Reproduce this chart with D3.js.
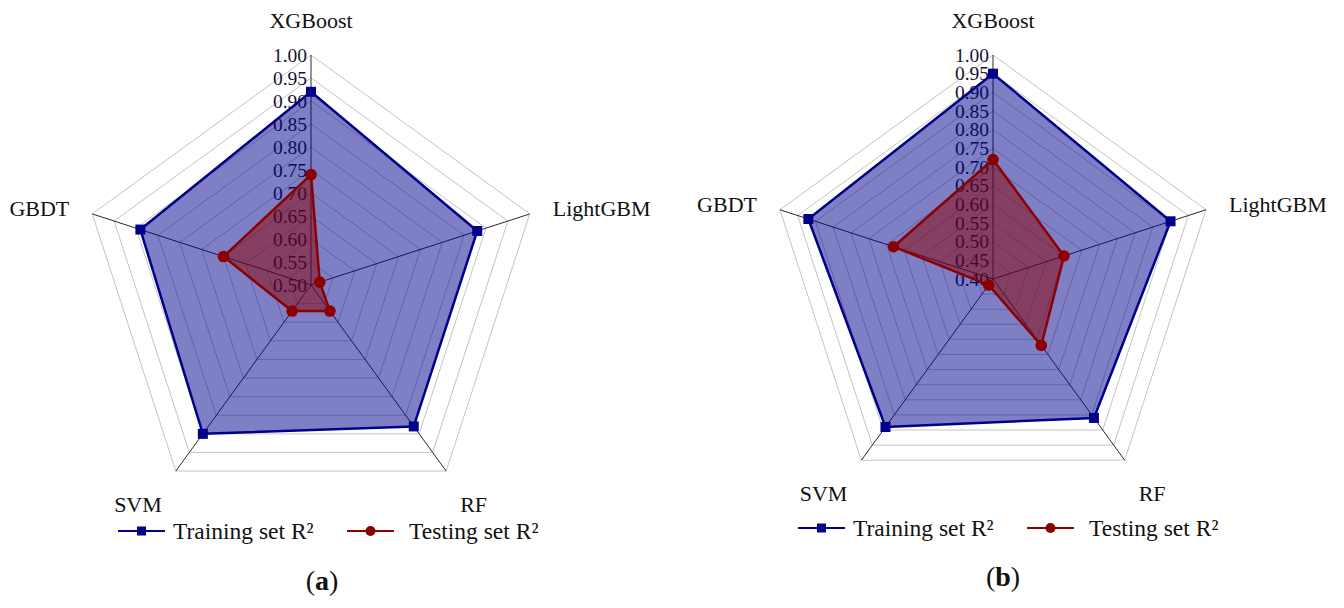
<!DOCTYPE html>
<html>
<head>
<meta charset="utf-8">
<script src="https://cdn.jsdelivr.net/npm/d3@7"></script>
<style>
  html, body { margin: 0; padding: 0; background: #fff; }
  svg { display: block; font-family: "Liberation Serif", "Times New Roman", serif; }
</style>
</head>
<body>
<svg id="chart" width="1344" height="608"></svg>
<script>
// Models compared on each radar
const models = ["XGBoost", "LightGBM", "RF", "SVM", "GBDT"];

// Panel (a)
const trainA = [0.92, 0.88, 0.88, 0.90, 0.89];
const testA  = [0.74, 0.52, 0.57, 0.57, 0.70];
const ticksA = [0.50, 0.55, 0.60, 0.65, 0.70, 0.75, 0.80, 0.85, 0.90, 0.95, 1.00];

// Panel (b)
const trainB = [0.95, 0.90, 0.86, 0.89, 0.92];
const testB  = [0.72, 0.60, 0.62, 0.42, 0.68];
const ticksB = [0.40, 0.45, 0.50, 0.55, 0.60, 0.65, 0.70, 0.75, 0.80, 0.85, 0.90, 0.95, 1.00];

const seriesNames = ["Training set R\u00B2", "Testing set R\u00B2"];

const BLUE = "#00008b";
const RED = "#8b0000";

const svg = d3.select("#chart");

// Label placement relative to each outer vertex
const labelPlace = [
  { anchor: "middle", dx: 0,   dy: -35 },
  { anchor: "start",  dx: 23,  dy: -5 },
  { anchor: "start",  dx: 14,  dy: 33 },
  { anchor: "end",    dx: -14, dy: 33 },
  { anchor: "end",    dx: -23, dy: -5 }
];

function drawRadar(cfg) {
  const g = svg.append("g").attr("transform", `translate(${cfg.cx},${cfg.cy})`);
  const ticks = cfg.ticks;
  const r = d3.scaleLinear().domain([ticks[0], ticks[ticks.length - 1]]).range([0, cfg.R]);
  const angle = d3.scaleLinear().domain([0, models.length]).range([0, 2 * Math.PI]);
  const pt = (i, v) => {
    const a = angle(i);
    return [r(v) * Math.sin(a), -r(v) * Math.cos(a)];
  };
  const ring = v => models.map((m, i) => pt(i, v));

  // grid rings
  g.append("g").selectAll("polygon").data(ticks.slice(1)).join("polygon")
    .attr("points", v => ring(v).map(p => p.join(",")).join(" "))
    .attr("fill", "none")
    .attr("stroke", "#c4c4c4")
    .attr("stroke-width", 1);

  // spokes
  g.append("g").selectAll("line").data(models).join("line")
    .attr("x1", 0).attr("y1", 0)
    .attr("x2", (m, i) => pt(i, ticks[ticks.length - 1])[0])
    .attr("y2", (m, i) => pt(i, ticks[ticks.length - 1])[1])
    .attr("stroke", "#2a2a2a")
    .attr("stroke-width", 1);

  // tick labels along the first axis
  g.append("g").selectAll("text").data(ticks).join("text")
    .attr("x", -4)
    .attr("y", v => -r(v))
    .attr("text-anchor", "end")
    .attr("dominant-baseline", "central")
    .attr("font-size", 19.5)
    .attr("fill", "#141432")
    .text(v => d3.format(".2f")(v));

  // axis (model) labels
  g.append("g").selectAll("text").data(models).join("text")
    .attr("x", (m, i) => pt(i, ticks[ticks.length - 1])[0] + labelPlace[i].dx)
    .attr("y", (m, i) => pt(i, ticks[ticks.length - 1])[1] + labelPlace[i].dy)
    .attr("text-anchor", (m, i) => labelPlace[i].anchor)
    .attr("dominant-baseline", "central")
    .attr("font-size", 22)
    .attr("fill", "#111")
    .text(m => m);

  const radial = d3.lineRadial()
    .angle((d, i) => angle(i))
    .radius(d => r(d))
    .curve(d3.curveLinearClosed);

  // filled areas
  [[cfg.train, BLUE], [cfg.test, RED]].forEach(([vals, col]) => {
    g.append("path").attr("d", radial(vals))
      .attr("fill", col).attr("fill-opacity", 0.5)
      .attr("stroke", col).attr("stroke-width", 2.5)
      .attr("stroke-linejoin", "round");
  });

  // markers
  g.append("g").selectAll("rect").data(cfg.train).join("rect")
    .attr("x", (v, i) => pt(i, v)[0] - 5)
    .attr("y", (v, i) => pt(i, v)[1] - 5)
    .attr("width", 10).attr("height", 10)
    .attr("fill", BLUE);
  g.append("g").selectAll("circle").data(cfg.test).join("circle")
    .attr("cx", (v, i) => pt(i, v)[0])
    .attr("cy", (v, i) => pt(i, v)[1])
    .attr("r", 5.8)
    .attr("fill", RED);

  // legend
  const lg = svg.append("g").attr("transform", `translate(${cfg.legX},${cfg.legY})`);
  const items = [
    { name: seriesNames[0], col: BLUE, shape: "square", x: 0, tx: 55 },
    { name: seriesNames[1], col: RED, shape: "circle", x: cfg.legGap, tx: 62 }
  ];
  items.forEach(it => {
    const ig = lg.append("g").attr("transform", `translate(${it.x},0)`);
    ig.append("line").attr("x1", 0).attr("x2", 47).attr("y1", 0).attr("y2", 0)
      .attr("stroke", it.col).attr("stroke-width", 2.2);
    if (it.shape === "square") {
      ig.append("rect").attr("x", 19).attr("y", -4.5).attr("width", 9).attr("height", 9).attr("fill", it.col);
    } else {
      ig.append("circle").attr("cx", 23.5).attr("cy", 0).attr("r", 5).attr("fill", it.col);
    }
    ig.append("text").attr("x", it.tx).attr("y", 0)
      .attr("dominant-baseline", "central")
      .attr("font-size", 23.5).attr("fill", "#111")
      .text(it.name);
  });

  // panel caption
  const cap = svg.append("text")
    .attr("x", cfg.capX).attr("y", cfg.capY)
    .attr("text-anchor", "middle")
    .attr("dominant-baseline", "central")
    .attr("font-size", 28).attr("fill", "#111");
  cap.append("tspan").text("(");
  cap.append("tspan").attr("font-weight", "bold").text(cfg.letter);
  cap.append("tspan").text(")");
}

drawRadar({ cx: 311, cy: 285, R: 230, ticks: ticksA, train: trainA, test: testA,
  legX: 118, legY: 531, legGap: 229, capX: 322, capY: 580, letter: "a" });
drawRadar({ cx: 993, cy: 279, R: 224, ticks: ticksB, train: trainB, test: testB,
  legX: 798, legY: 528, legGap: 229, capX: 1003, capY: 576, letter: "b" });
</script>
</body>
</html>
